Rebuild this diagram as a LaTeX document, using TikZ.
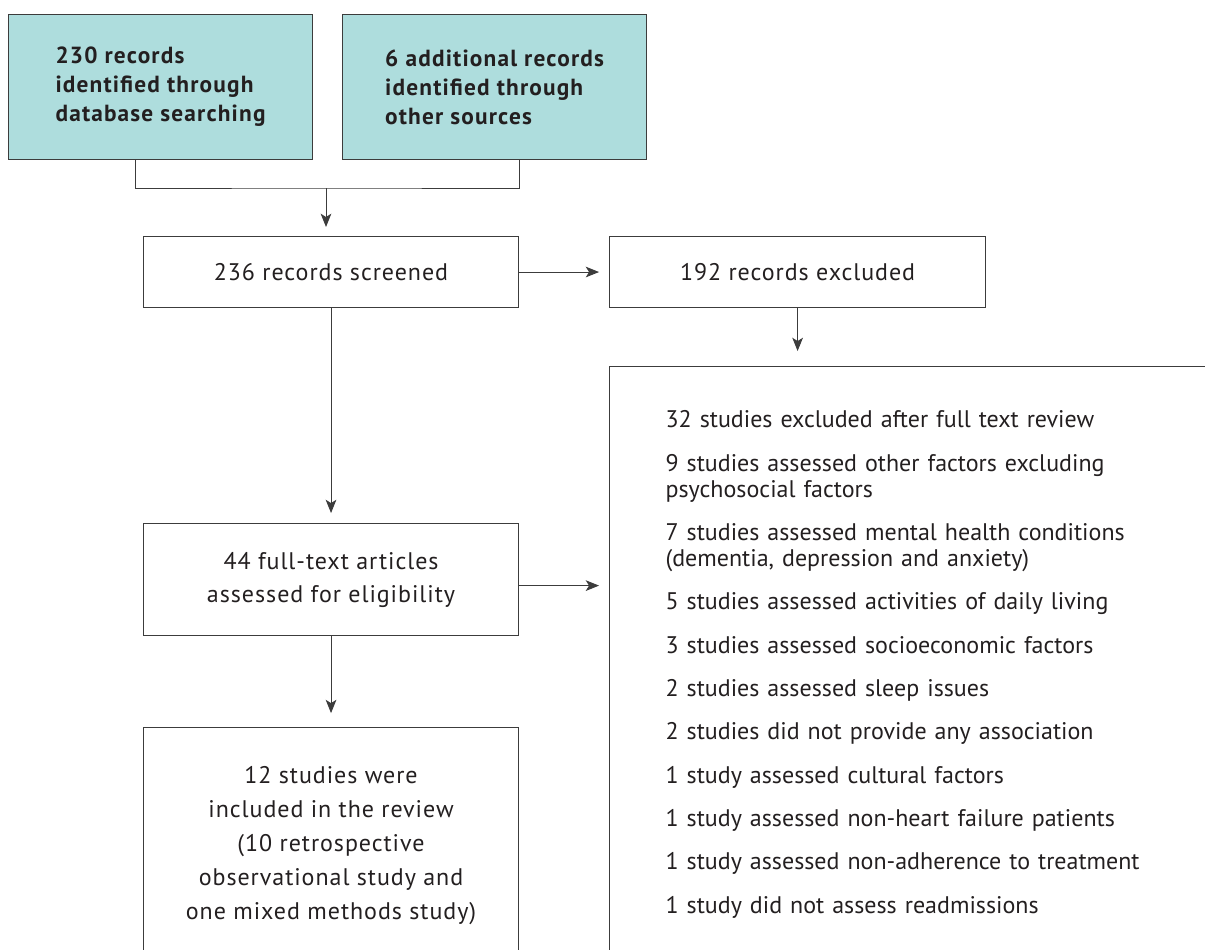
\documentclass[tikz,border=0pt]{standalone}
\usepackage{fontspec}
\setmainfont{PT Sans}
\newfontfamily\spaced[LetterSpace=4]{PT Sans}
\newfontfamily\heading[LetterSpace=5]{PT Sans}
\usepackage{xcolor}
\usetikzlibrary{positioning,arrows.meta,calc}
\definecolor{boxteal}{RGB}{174,221,221}
\definecolor{ink}{RGB}{35,31,32}
\definecolor{edge}{RGB}{60,60,60}

\begin{document}
\begin{tikzpicture}[x=0.75pt, y=-0.75pt,
    box/.style = {draw=edge, line width=0.8pt, text=ink, inner sep=0pt, align=center,
      font=\spaced\fontsize{18}{24.75}\selectfont},
    source/.style = {box, fill=boxteal, align=left, minimum width=228pt,
      minimum height=108.75pt, font=\heading\bfseries\fontsize{17.5}{21.75}\selectfont},
    reasons/.style = {box, align=left, inner xsep=42pt, inner ysep=33pt, text width=450pt,
      font=\fontsize{18}{19.5}\selectfont},
    link/.style = {draw=edge, line width=0.75pt},
    arrow/.style = {link, -{Stealth[length=10pt, width=8pt, inset=2.5pt]}, shorten >=7.5pt}]

    \useasboundingbox (0,0) rectangle (1205,949);
    \clip (0,0) rectangle (1205,949);

      \node[source, anchor=north west] (a1) at (8,14) {230 records\\ identified through\\ database searching};
      \node[source, right = 21.75pt of a1] (a2) {6 additional records\\ identified through\\ other sources};

      \node[box, anchor=north west, minimum width=281.25pt, minimum height=53.25pt] (b1) at (143,236) {236 records screened};
      \node[box, right = 67.5pt of b1, minimum width=282pt, minimum height=53.25pt] (b2) {192 records excluded};

      \node[box, below = 161.25pt of b1, minimum width=281.25pt, minimum height=84pt] (c1) {44 full-text articles\\ assessed for eligibility};
      \node[reasons, below = 43.5pt of b2.south west, anchor=north west] (c2) {32 studies excluded after full text review\\[13pt]
        9 studies assessed other factors excluding\\ psychosocial factors\\[13pt]
        7 studies assessed mental health conditions\\ (dementia, depression and anxiety)\\[13pt]
        5 studies assessed activities of daily living\\[13pt]
        3 studies assessed socioeconomic factors\\[13pt]
        2 studies assessed sleep issues\\[13pt]
        2 studies did not provide any association\\[13pt]
        1 study assessed cultural factors\\[13pt]
        1 study assessed non-heart failure patients\\[13pt]
        1 study assessed non-adherence to treatment\\[13pt]
        1 study did not assess readmissions};

      \node[box, below = 68.25pt of c1, minimum width=281.25pt, minimum height=176.25pt,
        font=\spaced\fontsize{18}{25.5}\selectfont] (d1) {12 studies were\\ included in the review\\ (10 retrospective\\ observational study and\\ one mixed methods study)};

      \coordinate (j1) at (326,188);
      \coordinate (e1) at ([yshift=-4.5pt]c1.east);

      \draw[link] ([xshift=-18.75pt]a1.south) |- (j1) -| ([xshift=18.75pt]a2.south);
      \draw[arrow, shorten >=6.75pt] (j1) -- (j1 |- b1.north);
      \draw[arrow] (b1) -- (b2);
      \draw[arrow] (b1) -- (c1);
      \draw[arrow, shorten >=11.25pt] (b2) -- (b2 |- c2.north);
      \draw[arrow] (e1) -- (e1 -| c2.west);
      \draw[arrow, shorten >=10.5pt] (c1) -- (d1);

\end{tikzpicture}
\end{document}
